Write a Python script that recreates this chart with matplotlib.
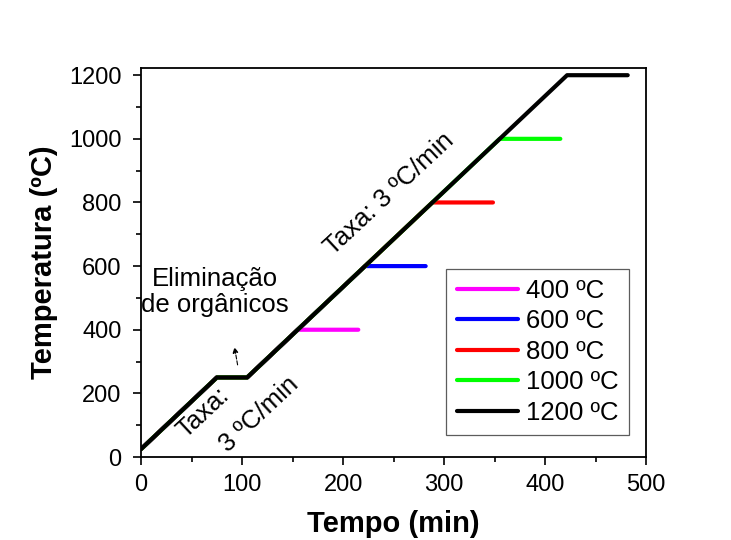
import matplotlib
matplotlib.use("Agg")
import matplotlib.pyplot as plt
from matplotlib.ticker import MultipleLocator

plt.rcParams['font.family'] = ['Liberation Sans', 'DejaVu Sans']

# heating programs: ramp at 3 C/min with a 30 min plateau at 250 C, then 60 min hold
labels = ['400 ºC', '600 ºC', '800 ºC', '1000 ºC', '1200 ºC']
colors = ['#ff00ff', '#0000ff', '#ff0000', '#00ff00', '#000000']
t_400 = [0, 75, 105, 155, 215]
T_400 = [25, 250, 250, 400, 400]
t_600 = [0, 75, 105, 221.7, 281.7]
T_600 = [25, 250, 250, 600, 600]
t_800 = [0, 75, 105, 288.3, 348.3]
T_800 = [25, 250, 250, 800, 800]
t_1000 = [0, 75, 105, 355, 415]
T_1000 = [25, 250, 250, 1000, 1000]
t_1200 = [0, 75, 105, 421.7, 481.7]
T_1200 = [25, 250, 250, 1200, 1200]

times = [t_400, t_600, t_800, t_1000, t_1200]
temps = [T_400, T_600, T_800, T_1000, T_1200]

fig = plt.figure(figsize=(7.31, 5.40), dpi=100)
ax = fig.add_axes([0.193, 0.1537, 0.691, 0.72])

for t, T, c, lab in zip(times, temps, colors, labels):
    ax.plot(t, T, color=c, lw=3, label=lab, solid_capstyle='round')

ax.set_xlim(0, 500)
ax.set_ylim(0, 1222)
ax.xaxis.set_major_locator(MultipleLocator(100))
ax.xaxis.set_minor_locator(MultipleLocator(50))
ax.yaxis.set_major_locator(MultipleLocator(200))
ax.yaxis.set_minor_locator(MultipleLocator(100))
ax.tick_params(which='major', direction='out', length=6, width=1.2, labelsize=17)
ax.tick_params(axis='y', which='major', pad=8)
ax.tick_params(axis='x', which='major', pad=6)
ax.tick_params(which='minor', direction='out', length=3.5, width=1.2)
for s in ax.spines.values():
    s.set_linewidth(1.3)

ax.set_xlabel('Tempo (min)', fontsize=21, fontweight='bold', labelpad=10)
ax.set_ylabel('Temperatura (ºC)', fontsize=21, fontweight='bold', labelpad=8)

ax.text(246, 827, 'Taxa: 3 ºC/min', rotation=43, fontsize=18.5,
        ha='center', va='center', rotation_mode='anchor')
ax.text(61, 139, 'Taxa:', rotation=43, fontsize=18.5,
        ha='center', va='center', rotation_mode='anchor')
ax.text(117, 133, '3 ºC/min', rotation=43, fontsize=18.5,
        ha='center', va='center', rotation_mode='anchor')
ax.text(73, 518, 'Eliminação\nde orgânicos', fontsize=18.5,
        ha='center', va='center', linespacing=1.1)
ax.annotate('', xy=(92, 354), xytext=(96, 281),
            arrowprops=dict(arrowstyle='-|>', lw=0.8, ls='--',
                            color='black', mutation_scale=8))

leg = ax.legend(loc='lower right', bbox_to_anchor=(0.966, 0.057), borderaxespad=0,
                fontsize=18.5, handlelength=2.4, handletextpad=0.3,
                labelspacing=0.25, fancybox=False, edgecolor='#333333',
                borderpad=0.4)
leg.get_frame().set_linewidth(0.9)

fig.savefig('out.png', dpi=100)
